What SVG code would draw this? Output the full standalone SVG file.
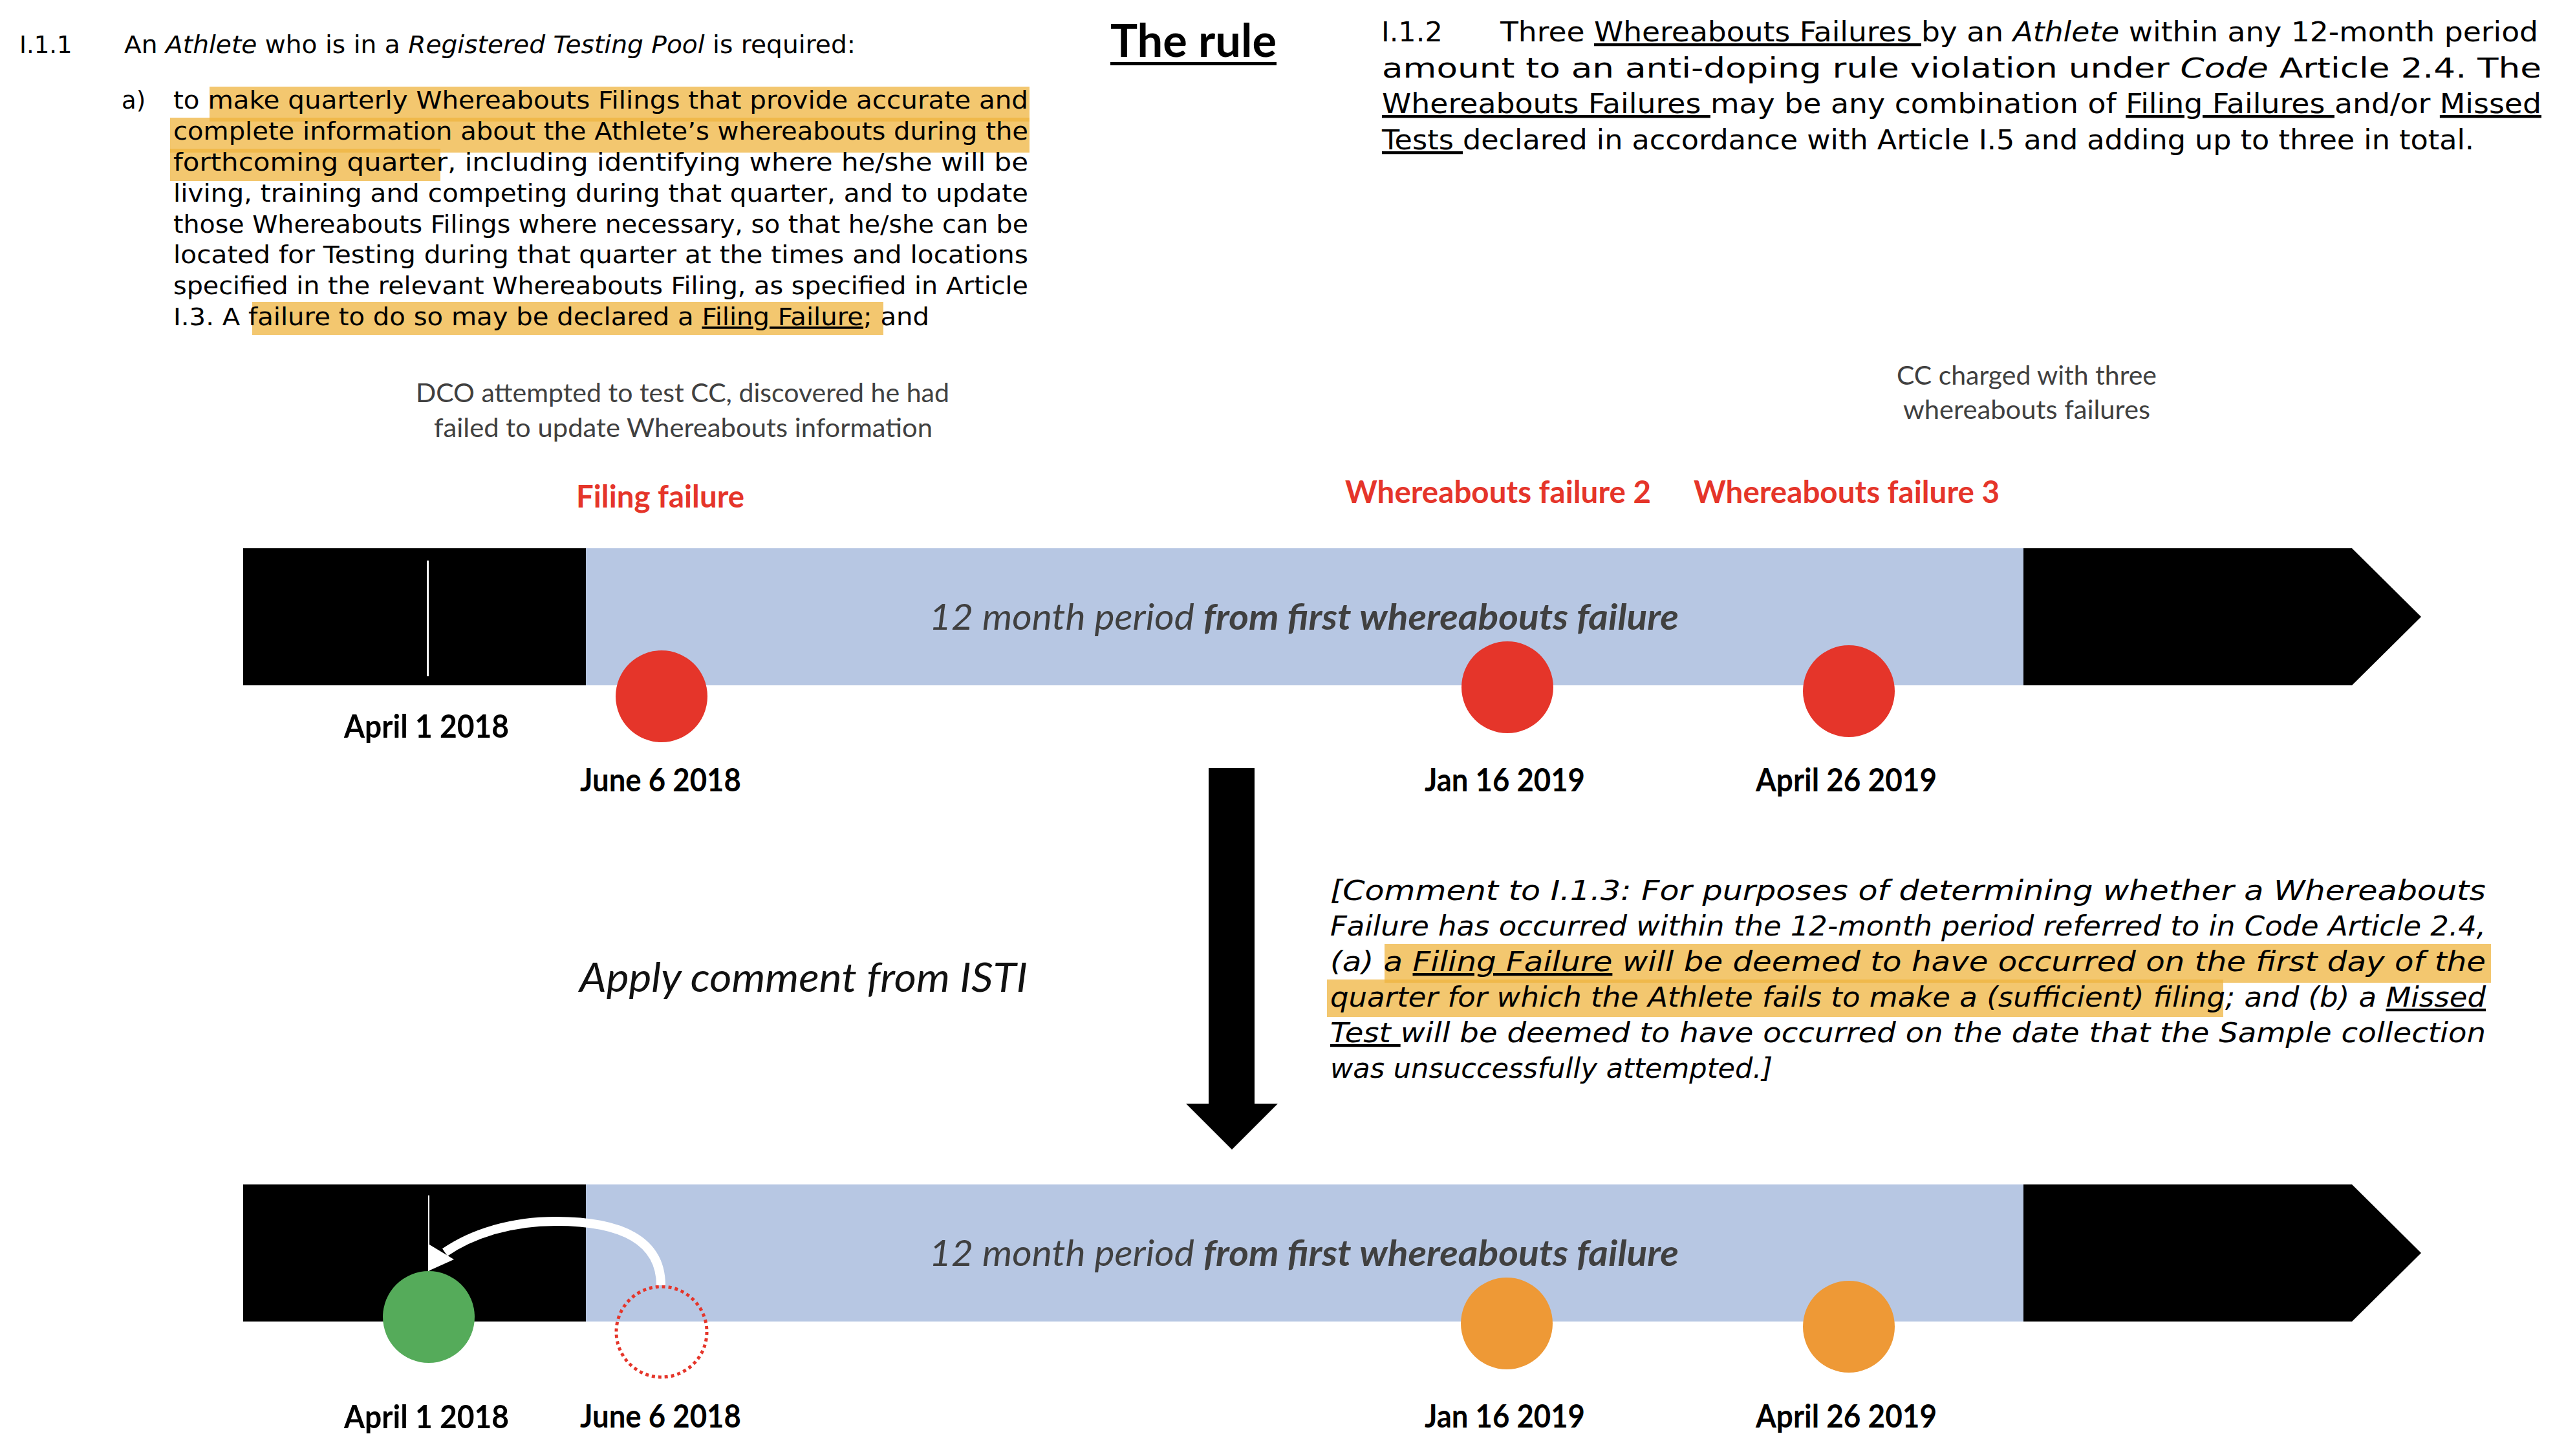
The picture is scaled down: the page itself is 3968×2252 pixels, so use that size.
<svg xmlns="http://www.w3.org/2000/svg" width="3968" height="2252" viewBox="0 0 3968 2252">
<style>
.doc{font-family:"DejaVu Sans","Liberation Sans",sans-serif;fill:#000}
.tl{font-size:37px}
.rt{font-size:43px}
.cm{font-size:42px;font-style:italic}
.it{font-style:italic}
.u{text-decoration:underline}
.hl{fill:#EFB43F;opacity:0.75}
.cal{font-family:Lato,"Open Sans","Liberation Sans",sans-serif}
.date{font-size:50px;font-weight:bold;fill:#000}
.red{font-size:48px;font-weight:bold;fill:#E5352A}
.note{font-size:40px;fill:#404040}
.period{font-size:56px;font-style:italic;fill:#404040}
.blk{fill:#000}
.blue{fill:#B7C7E3}
</style>
<rect width="3968" height="2252" fill="#fff"/>

<g id="rule-i11">
  <rect class="hl" x="324" y="134" width="1268" height="54"/>
  <rect class="hl" x="263" y="182" width="1329" height="54"/>
  <rect class="hl" x="263" y="230" width="418" height="50"/>
  <rect class="hl" x="390" y="467" width="976" height="51"/>
  <text class="doc tl" x="30" y="82">I.1.1</text>
  <text class="doc tl" x="192" y="82" textLength="1131" lengthAdjust="spacingAndGlyphs">An <tspan class="it">Athlete</tspan> who is in a <tspan class="it">Registered Testing Pool</tspan> is required:</text>
  <text class="doc tl" x="188" y="168">a)</text>
  <text class="doc tl" x="268" y="168" textLength="1322" lengthAdjust="spacingAndGlyphs">to make quarterly Whereabouts Filings that provide accurate and</text>
  <text class="doc tl" x="268" y="216" textLength="1322" lengthAdjust="spacingAndGlyphs">complete information about the Athlete’s whereabouts during the</text>
  <text class="doc tl" x="268" y="264" textLength="1322" lengthAdjust="spacingAndGlyphs">forthcoming quarter, including identifying where he/she will be</text>
  <text class="doc tl" x="268" y="312" textLength="1322" lengthAdjust="spacingAndGlyphs">living, training and competing during that quarter, and to update</text>
  <text class="doc tl" x="268" y="360" textLength="1322" lengthAdjust="spacingAndGlyphs">those Whereabouts Filings where necessary, so that he/she can be</text>
  <text class="doc tl" x="268" y="407" textLength="1322" lengthAdjust="spacingAndGlyphs">located for Testing during that quarter at the times and locations</text>
  <text class="doc tl" x="268" y="455" textLength="1322" lengthAdjust="spacingAndGlyphs">specified in the relevant Whereabouts Filing, as specified in  Article</text>
  <text class="doc tl" x="268" y="503" textLength="1169" lengthAdjust="spacingAndGlyphs">I.3. A failure to do so may be declared a <tspan class="u">Filing Failure</tspan>; and</text>
</g>

<g id="title">
  <text class="cal" x="1717" y="88" font-size="70" font-weight="bold" textLength="257" lengthAdjust="spacingAndGlyphs">The rule</text>
  <rect x="1717" y="96" width="257" height="5" fill="#000"/>
</g>

<g id="rule-i12">
  <text class="doc rt" x="2136" y="64">I.1.2</text>
  <text class="doc rt" x="2320" y="64" textLength="1605" lengthAdjust="spacingAndGlyphs">Three <tspan class="u">Whereabouts Failures </tspan>by an <tspan class="it">Athlete</tspan> within any 12-month period</text>
  <text class="doc rt" x="2137" y="120" textLength="1793" lengthAdjust="spacingAndGlyphs">amount to an anti-doping rule violation under <tspan class="it">Code</tspan> Article 2.4. The</text>
  <text class="doc rt" x="2137" y="175" textLength="1793" lengthAdjust="spacingAndGlyphs"><tspan class="u">Whereabouts Failures </tspan>may be any combination of <tspan class="u">Filing Failures </tspan>and/or <tspan class="u">Missed</tspan></text>
  <text class="doc rt" x="2137" y="231" textLength="1689" lengthAdjust="spacingAndGlyphs"><tspan class="u">Tests </tspan>declared in accordance with Article I.5 and adding up to three in total.</text>
</g>

<g id="note-dco">
  <text class="cal note" x="643" y="622" textLength="825" lengthAdjust="spacingAndGlyphs">DCO attempted to test CC, discovered he had</text>
  <text class="cal note" x="671" y="676" textLength="771" lengthAdjust="spacingAndGlyphs">failed to update Whereabouts information</text>
</g>
<g id="note-charged">
  <text class="cal note" x="2933" y="595" textLength="402" lengthAdjust="spacingAndGlyphs">CC charged with three</text>
  <text class="cal note" x="2943" y="648" textLength="382" lengthAdjust="spacingAndGlyphs">whereabouts failures</text>
</g>

<g id="label-filing">
  <text class="cal red" x="891" y="785" textLength="260" lengthAdjust="spacingAndGlyphs">Filing failure</text>
</g>
<g id="label-wf2">
  <text class="cal red" x="2080" y="778" textLength="473" lengthAdjust="spacingAndGlyphs">Whereabouts failure 2</text>
</g>
<g id="label-wf3">
  <text class="cal red" x="2619" y="778" textLength="473" lengthAdjust="spacingAndGlyphs">Whereabouts failure 3</text>
</g>

<g id="timeline-top">
  <rect class="blk" x="376" y="848" width="531" height="212"/>
  <rect class="blue" x="906" y="848" width="2224" height="212"/>
  <polygon class="blk" points="3129,848 3637,848 3744,954 3637,1060 3129,1060"/>
  <rect x="660" y="867" width="3" height="179" fill="#fff"/>
  <text class="cal period" x="1437" y="974" textLength="1159" lengthAdjust="spacingAndGlyphs">12 month period <tspan font-weight="bold">from first whereabouts failure</tspan></text>
</g>
<g id="event-top-1"><circle cx="1023" cy="1077" r="71" fill="#E5352A"/></g>
<g id="event-top-2"><circle cx="2331" cy="1063" r="71" fill="#E5352A"/></g>
<g id="event-top-3"><circle cx="2859" cy="1069" r="71" fill="#E5352A"/></g>

<g id="dates-top">
  <text class="cal date" x="532" y="1141" textLength="255" lengthAdjust="spacingAndGlyphs">April 1 2018</text>
  <text class="cal date" x="897" y="1224" textLength="249" lengthAdjust="spacingAndGlyphs">June 6 2018</text>
  <text class="cal date" x="2203" y="1224" textLength="248" lengthAdjust="spacingAndGlyphs">Jan 16 2019</text>
  <text class="cal date" x="2715" y="1224" textLength="280" lengthAdjust="spacingAndGlyphs">April 26 2019</text>
</g>

<g id="apply-label">
  <text class="cal" x="896" y="1534" font-size="62" font-style="italic" fill="#111" textLength="693" lengthAdjust="spacingAndGlyphs">Apply comment from ISTI</text>
</g>

<g id="comment">
  <rect class="hl" x="2141" y="1460" width="1711" height="60"/>
  <rect class="hl" x="2052" y="1515" width="1386" height="58"/>
  <text class="doc cm" x="2057" y="1392" textLength="1787" lengthAdjust="spacingAndGlyphs">[Comment to I.1.3: For purposes of determining whether a Whereabouts</text>
  <text class="doc cm" x="2057" y="1447" textLength="1787" lengthAdjust="spacingAndGlyphs">Failure has occurred within the 12-month period referred to in Code Article 2.4,</text>
  <text class="doc cm" x="2057" y="1502" textLength="1787" lengthAdjust="spacingAndGlyphs">(a) a <tspan class="u">Filing Failure</tspan> will be deemed to have occurred on the first day of the</text>
  <text class="doc cm" x="2057" y="1557" textLength="1787" lengthAdjust="spacingAndGlyphs">quarter for which the Athlete fails to make a (sufficient) filing; and (b) a <tspan class="u">Missed</tspan></text>
  <text class="doc cm" x="2057" y="1612" textLength="1787" lengthAdjust="spacingAndGlyphs"><tspan class="u">Test </tspan>will be deemed to have occurred on the date that the Sample collection</text>
  <text class="doc cm" x="2057" y="1667" textLength="684" lengthAdjust="spacingAndGlyphs">was unsuccessfully attempted.]</text>
</g>

<g id="timeline-bottom">
  <rect class="blk" x="376" y="1832" width="531" height="212"/>
  <rect class="blue" x="906" y="1832" width="2224" height="212"/>
  <polygon class="blk" points="3129,1832 3637,1832 3744,1938 3637,2044 3129,2044"/>
  <rect x="662" y="1849" width="2" height="117" fill="#fff"/>
  <text class="cal period" x="1437" y="1958" textLength="1159" lengthAdjust="spacingAndGlyphs">12 month period <tspan font-weight="bold">from first whereabouts failure</tspan></text>
</g>
<g id="event-bottom-green"><circle cx="663" cy="2037" r="71" fill="#55AB5A"/></g>
<g id="event-bottom-moved"><circle cx="1023" cy="2060" r="70" fill="none" stroke="#E5352A" stroke-width="5" stroke-dasharray="5 5"/></g>
<g id="event-bottom-2"><circle cx="2330" cy="2047" r="71" fill="#EE9936"/></g>
<g id="event-bottom-3"><circle cx="2859" cy="2052" r="71" fill="#EE9936"/></g>

<g id="dates-bottom">
  <text class="cal date" x="532" y="2209" textLength="255" lengthAdjust="spacingAndGlyphs">April 1 2018</text>
  <text class="cal date" x="897" y="2208" textLength="249" lengthAdjust="spacingAndGlyphs">June 6 2018</text>
  <text class="cal date" x="2203" y="2208" textLength="248" lengthAdjust="spacingAndGlyphs">Jan 16 2019</text>
  <text class="cal date" x="2715" y="2208" textLength="280" lengthAdjust="spacingAndGlyphs">April 26 2019</text>
</g>

<g id="connectors">
  <polygon class="blk" points="1869,1188 1940,1188 1940,1707 1976,1707 1905,1778 1834,1707 1869,1707"/>
  <path d="M1022,1988 C1022,1918 960,1889 860,1889 C790,1889 730,1908 688,1937" fill="none" stroke="#fff" stroke-width="14"/>
  <polygon points="664,1925 702,1948 662,1966" fill="#fff"/>
</g>
</svg>
